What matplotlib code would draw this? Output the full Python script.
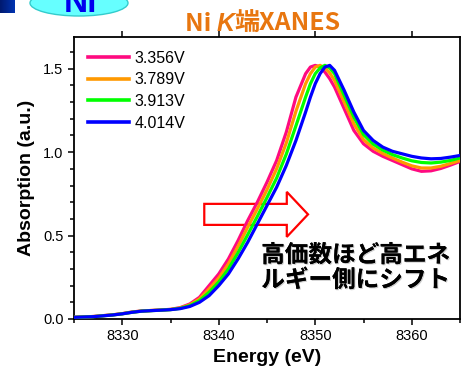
import numpy as np
import matplotlib.pyplot as plt
from matplotlib.patches import Ellipse, FancyArrow
from matplotlib.ticker import MultipleLocator
import matplotlib.patheffects as pe

plt.rcParams['font.family'] = ['Liberation Sans', 'DejaVu Sans']

energy = [8325, 8327, 8329, 8330, 8331, 8332, 8333, 8334, 8335, 8336, 8337, 8338,
          8339, 8340, 8341, 8342, 8343, 8344, 8345, 8346, 8347, 8348, 8349, 8349.5,
          8350, 8350.5, 8351, 8351.5, 8352, 8353, 8354, 8355, 8356, 8357, 8358, 8359,
          8360, 8361, 8362, 8363, 8364, 8365]

abs_3356 = [0.010, 0.015, 0.025, 0.032, 0.042, 0.048, 0.051, 0.054, 0.058, 0.068, 0.090, 0.130,
            0.200, 0.270, 0.360, 0.470, 0.590, 0.700, 0.820, 0.950, 1.120, 1.330, 1.470, 1.510,
            1.520, 1.510, 1.480, 1.440, 1.390, 1.260, 1.130, 1.050, 1.005, 0.975, 0.950, 0.925,
            0.900, 0.885, 0.888, 0.902, 0.922, 0.944]
abs_3789 = [0.010, 0.015, 0.025, 0.032, 0.041, 0.048, 0.051, 0.054, 0.057, 0.066, 0.085, 0.120,
            0.180, 0.245, 0.330, 0.435, 0.550, 0.660, 0.775, 0.900, 1.055, 1.245, 1.410, 1.470,
            1.510, 1.520, 1.505, 1.475, 1.430, 1.300, 1.170, 1.075, 1.025, 0.992, 0.965, 0.940,
            0.918, 0.905, 0.905, 0.915, 0.932, 0.950]
abs_3913 = [0.010, 0.014, 0.024, 0.031, 0.040, 0.047, 0.050, 0.053, 0.056, 0.064, 0.080, 0.110,
            0.160, 0.222, 0.300, 0.398, 0.505, 0.615, 0.728, 0.845, 0.988, 1.158, 1.330, 1.410,
            1.470, 1.505, 1.520, 1.505, 1.470, 1.340, 1.210, 1.105, 1.048, 1.012, 0.985, 0.965,
            0.948, 0.938, 0.935, 0.940, 0.950, 0.965]
abs_4014 = [0.010, 0.014, 0.024, 0.031, 0.040, 0.047, 0.050, 0.053, 0.056, 0.062, 0.075, 0.100,
            0.140, 0.200, 0.270, 0.360, 0.460, 0.570, 0.680, 0.790, 0.920, 1.070, 1.240, 1.330,
            1.410, 1.470, 1.510, 1.520, 1.490, 1.370, 1.240, 1.130, 1.070, 1.030, 1.005, 0.990,
            0.975, 0.965, 0.960, 0.962, 0.970, 0.980]

labels = ['3.356V', '3.789V', '3.913V', '4.014V']
colors = ['#FF0A80', '#FF9900', '#00FF00', '#0000FF']
series = [abs_3356, abs_3789, abs_3913, abs_4014]

fig = plt.figure(figsize=(4.61, 3.72), dpi=100)
ax = fig.add_axes([74 / 461, 53 / 372, 386 / 461, 282 / 372])

# hollow shift arrow behind the curves
arrow = FancyArrow(8338.5, 0.627, 10.75, 0, width=0.126, head_width=0.27,
                   head_length=2.2, length_includes_head=True,
                   facecolor='white', edgecolor='#FF0000', linewidth=1.6, zorder=1)
ax.add_patch(arrow)

for y, c, lab in zip(series, colors, labels):
    ax.plot(energy, y, color=c, lw=2.3, label=lab, zorder=3)

ax.set_xlim(8325, 8365)
ax.set_ylim(0, 1.69)
ax.xaxis.set_major_locator(MultipleLocator(10))
ax.xaxis.set_minor_locator(MultipleLocator(5))
ax.yaxis.set_major_locator(MultipleLocator(0.5))
ax.yaxis.set_minor_locator(MultipleLocator(0.1))
ax.yaxis.set_major_formatter(plt.FormatStrFormatter('%.1f'))
ax.tick_params(which='both', direction='out', width=1.1, labelsize=10.5, top=True)
ax.tick_params(which='major', length=4)
ax.tick_params(which='minor', length=3)
ax.tick_params(axis='x', which='minor', top=False)
for s in ax.spines.values():
    s.set_linewidth(1.3)

ax.set_xlabel('Energy (eV)', fontsize=14, fontweight='bold', labelpad=4)
ax.set_ylabel('Absorption (a.u.)', fontsize=14, fontweight='bold', labelpad=6)

leg = ax.legend(loc='upper left', frameon=False, fontsize=11.5, handlelength=2.6,
                handletextpad=0.35, labelspacing=0.42, borderaxespad=0.3, borderpad=0.55)
for h in leg.get_lines():
    h.set_linewidth(2.6)

jp = ['Noto Sans CJK JP', 'DejaVu Sans']
shadow = [pe.withSimplePatchShadow(offset=(0.8, -0.8), shadow_rgbFace='#999999', alpha=0.5),
          pe.Normal()]
ax.text(8344.4, 0.455, '高価数ほど高エネ\nルギー側にシフト', family=jp, fontsize=17,
        fontweight='bold', va='top', ha='left', linespacing=1.05,
        path_effects=shadow, zorder=4)

# decoration layer in pixel units
deco = fig.add_axes([0, 0, 1, 1], zorder=-1)
deco.set_xlim(0, 461)
deco.set_ylim(372, 0)
deco.axis('off')
grad = np.linspace(0, 1, 20).reshape(1, -1)
deco.imshow(grad, cmap=plt.matplotlib.colors.LinearSegmentedColormap.from_list(
    'b', ['#001a70', '#0033b0']), extent=[0, 14, 13, 0], aspect='auto')
deco.add_patch(Ellipse((79, 3), 98, 26, facecolor='#66FFFF', edgecolor='#33CCCC', lw=1))
deco.text(80, 12, 'Ni', ha='center', va='baseline', fontsize=24, fontweight='bold',
          color='#0000EE')

# title with italic K
tc = '#E8760F'
t1 = fig.text(185 / 461, 1 - 31 / 372, 'Ni ', fontsize=18, color=tc, family=jp,
              fontweight='bold', va='baseline', ha='left')
t2 = ax.annotate('K', xy=(1, 0), xycoords=t1, va='bottom', ha='left', fontsize=18,
                 color=tc, style='italic', fontweight='bold', family=['Liberation Sans'],
                 annotation_clip=False)
t3 = ax.annotate('端XANES', xy=(1, 0), xycoords=t2, va='bottom', ha='left', fontsize=18,
                 color=tc, family=jp, fontweight='bold', annotation_clip=False)

fig.savefig('out.png', dpi=100)
